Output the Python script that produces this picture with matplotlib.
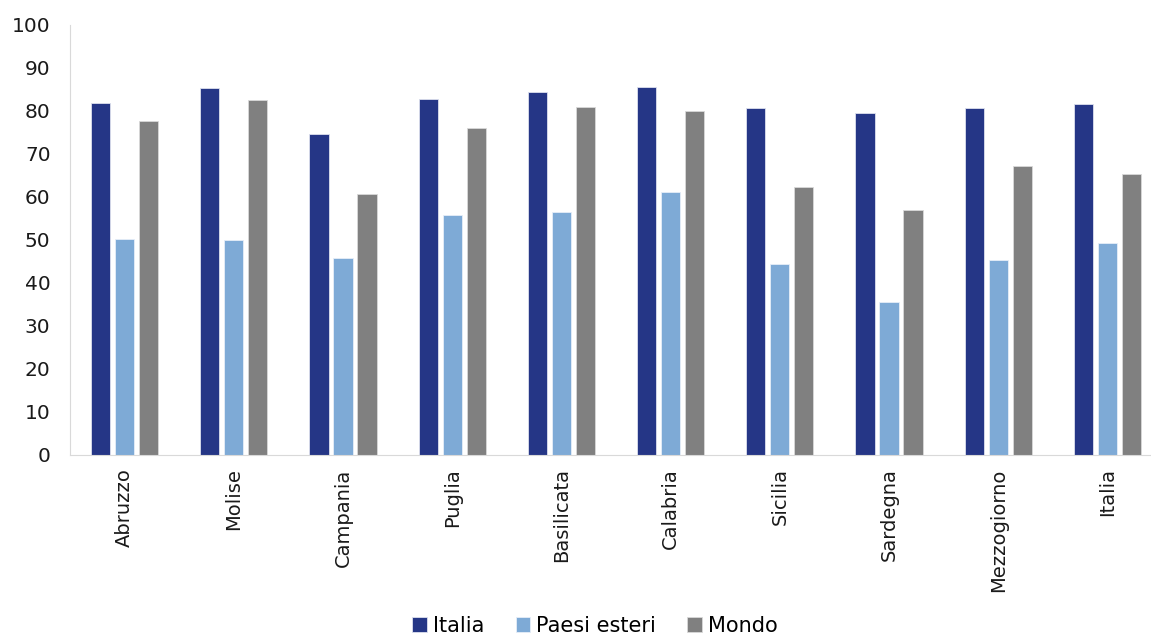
import numpy as np
import matplotlib.pyplot as plt

# dati
regioni = ['Abruzzo', 'Molise', 'Campania', 'Puglia', 'Basilicata', 'Calabria',
           'Sicilia', 'Sardegna', 'Mezzogiorno', 'Italia']
italia = [81.8, 85.4, 74.6, 82.8, 84.3, 85.5, 80.6, 79.5, 80.6, 81.5]
paesi_esteri = [50.1, 49.9, 45.8, 55.8, 56.5, 61.2, 44.3, 35.4, 45.4, 49.2]
mondo = [77.7, 82.6, 60.7, 76.1, 80.8, 79.9, 62.2, 57.0, 67.1, 65.2]

plt.rcParams['font.family'] = ['DejaVu Sans']

W, H = 1151, 639
fig = plt.figure(figsize=(W / 100, H / 100), dpi=100)
# axes goes slightly past the right edge, like in the original
ax = fig.add_axes([70 / W, 1 - 454.5 / H, (1162 - 70) / W, (454.5 - 25) / H])

x = np.arange(len(regioni))
bw = 0.175
off = 0.22
ax.bar(x - off, italia, bw, color='#253686', edgecolor='#dde0ee', linewidth=0.6, label='Italia')
ax.bar(x, paesi_esteri, bw, color='#7eaad6', edgecolor='#e6eef8', linewidth=0.6, label='Paesi esteri')
ax.bar(x + off, mondo, bw, color='#808080', edgecolor='#d9d9d9', linewidth=0.6, label='Mondo')

ax.set_xlim(-0.5, len(regioni) - 0.5)
ax.set_ylim(0, 100)
ax.set_yticks(range(0, 101, 10))
ax.set_xticks(x)
ax.set_xticklabels(regioni, rotation=90, fontsize=14, color='#1a1a1a')
ax.tick_params(axis='y', labelsize=14.5, colors='#1a1a1a', length=0, pad=14)
ax.tick_params(axis='x', length=0, pad=10)

for s in ['top', 'right']:
    ax.spines[s].set_visible(False)
ax.spines['left'].set_color('#d9d9d9')
ax.spines['bottom'].set_color('#d9d9d9')

# legenda in basso (nell'originale e' quasi tagliata)
fig.legend(loc='lower center', bbox_to_anchor=(0.517, -0.024), ncol=3, frameon=False,
           fontsize=15, handlelength=0.7, handleheight=0.7, handletextpad=0.3,
           columnspacing=1.5)

fig.savefig('out.png', dpi=100)
